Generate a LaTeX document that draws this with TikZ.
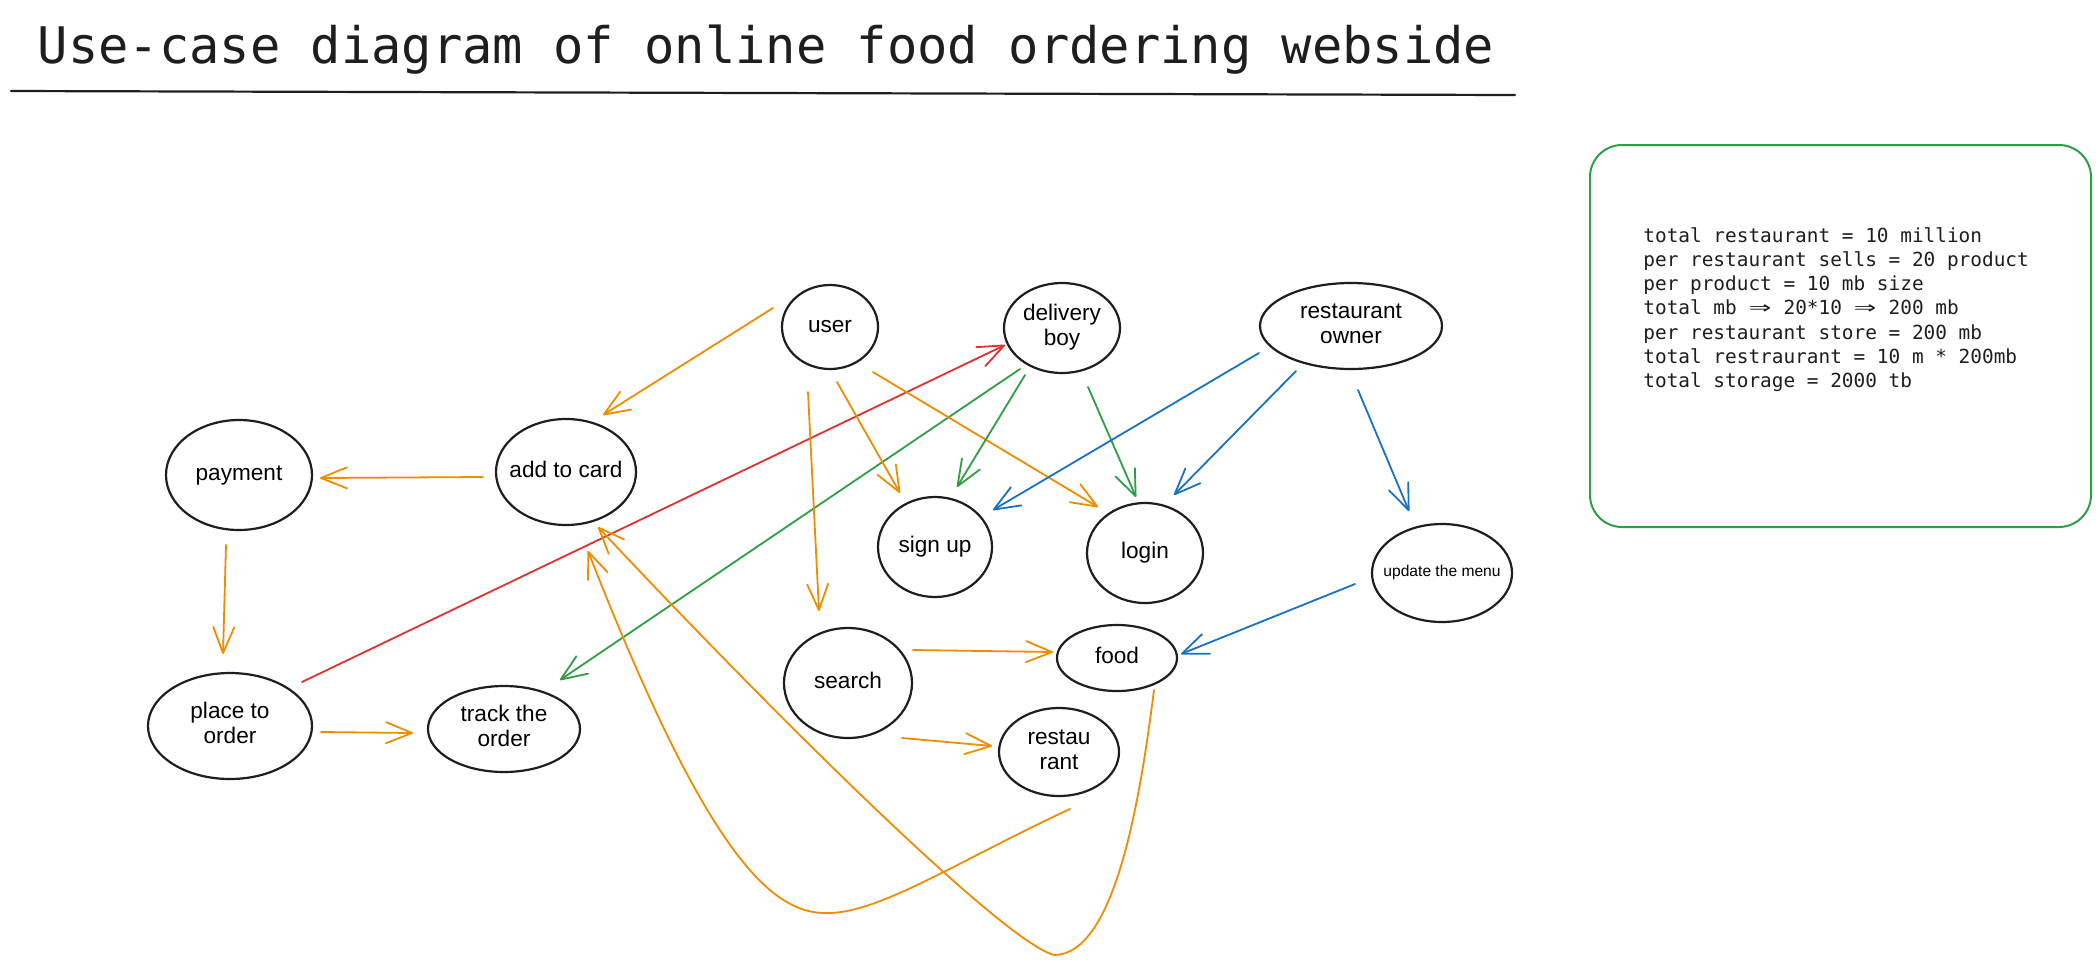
\documentclass[tikz,border=0pt]{standalone}
\usepackage{fontspec}
\setmainfont{Liberation Sans}
\newfontfamily\monofont{DejaVu Sans Mono}
\usetikzlibrary{shapes.geometric,arrows.meta,calc}
\definecolor{ink}{HTML}{1E1E1E}
\definecolor{orng}{HTML}{F08C00}
\definecolor{grn}{HTML}{2F9E44}
\definecolor{rd}{HTML}{E03131}
\definecolor{blu}{HTML}{1971C2}
\newcommand\uctxt[1]{\makebox[0pt]{\begin{tabular}{@{}c@{}}#1\end{tabular}}}
\newcommand\dbl{\makebox[1.204em]{\scalebox{1.9}[1.15]{⇒}}}
\begin{document}
\begin{tikzpicture}[x=0.5pt,y=-0.5pt,
  uc/.style 2 args={ellipse, draw=ink, line width=1.1pt, minimum width=#1pt, minimum height=#2pt, inner sep=0pt, font=\fontsize{11.3}{12.5}\selectfont},
  arr/.style={draw=#1, line width=0.9pt, line cap=round, line join=round, -{Straight Barb[length=13pt,width=10.5pt,line cap=round,line join=round]}},
]
\fill[white] (0,0) rectangle (2100,965);
\useasboundingbox (0,0) rectangle (2100,965);

% title
\node[font=\monofont\fontsize{25.2}{30}\selectfont, text=ink, anchor=base, inner sep=0pt] (title) at (766,63) {Use-case diagram of online food ordering webside};
\draw[ink, line width=1.1pt, line cap=round] (11,91) -- (1515,95);

% notes box
\node[draw=grn, line width=1pt, rounded corners=16pt, minimum width=250.5pt, minimum height=191pt, inner sep=0pt] (notesbox) at (1840.5,336) {};
\node[font=\monofont\fontsize{9.7}{12.1}\selectfont, text=ink, align=left, anchor=north west, inner sep=0pt] (notes) at (1643,227) {total restaurant = 10 million\\
per restaurant sells = 20 product\\
per product = 10 mb size\\
total mb \dbl{} 20*10 \dbl{} 200 mb\\
per restaurant store = 200 mb\\
total restraurant = 10 m * 200mb\\
total storage = 2000 tb};

% use cases
\node[uc={48}{42}] (user) at (830,327) {\uctxt{user}};
\node[uc={58}{45}] (delivery) at (1062,328) {\uctxt{delivery\\boy}};
\node[uc={91}{43}] (owner) at (1351,326) {\uctxt{restaurant\\owner}};
\node[uc={57}{50}] (signup) at (935,547) {\uctxt{sign up}};
\node[uc={58}{50}] (login) at (1145,553) {\uctxt{login}};
\node[uc={70}{49}, font=\fontsize{7.8}{9}\selectfont] (update) at (1442,573) {\uctxt{update the menu}};
\node[uc={64}{55}] (search) at (848,683) {\uctxt{search}};
\node[uc={60}{33}] (food) at (1117,658) {\uctxt{food}};
\node[uc={60}{44}] (restaurant) at (1059,752) {\uctxt{restau\\rant}};
\node[uc={73}{55}] (payment) at (239,475) {\uctxt{payment}};
\node[uc={70}{53}] (addcard) at (566,472) {\uctxt{add to card}};
\node[uc={82}{53}] (place) at (230,726) {\uctxt{place to\\order}};
\node[uc={76}{43}] (track) at (504,729) {\uctxt{track the\\order}};

% connectors
\draw[arr=orng] ($(user)+(-57,-19)$) -- ($(addcard)+(37,-57)$);
\draw[arr=orng] ($(addcard)+(-83,5)$) -- ($(payment)+(81,3)$);
\draw[arr=orng] ($(payment)+(-13,70)$) -- ($(place)+(-7,-72)$);
\draw[arr=orng] ($(place)+(91,6)$) -- ($(track)+(-91,4)$);
\draw[arr=rd] ($(place)+(72,-44)$) -- ($(delivery)+(-57,17)$);
\draw[arr=grn] ($(delivery)+(-42,41)$) -- ($(track)+(56,-49)$);
\draw[arr=orng] ($(user)+(7,55)$) -- ($(signup)+(-35,-54)$);
\draw[arr=orng] ($(user)+(43,45)$) -- ($(login)+(-47,-46)$);
\draw[arr=orng] ($(user)+(-22,65)$) -- ($(search)+(-29,-72)$);
\draw[arr=grn] ($(delivery)+(-37,47)$) -- ($(signup)+(22,-60)$);
\draw[arr=grn] ($(delivery)+(26,59)$) -- ($(login)+(-9,-56)$);
\draw[arr=blu] ($(owner)+(-92,27)$) -- ($(signup)+(58,-37)$);
\draw[arr=blu] ($(owner)+(-55,45)$) -- ($(login)+(29,-58)$);
\draw[arr=blu] ($(owner)+(7,64)$) -- ($(update)+(-33,-62)$);
\draw[arr=blu] ($(update)+(-87,11)$) -- ($(food)+(64,-4)$);
\draw[arr=orng] ($(search)+(65,-33)$) -- ($(food)+(-64,-6)$);
\draw[arr=orng] ($(search)+(54,55)$) -- ($(restaurant)+(-67,-6)$);
\draw[arr=orng] ($(restaurant)+(11,57)$) .. controls (960,860) and (880,913) .. (828,913)
  .. controls (770,915) and (705,850) .. ($(addcard)+(22,79)$);
\draw[arr=orng] ($(food)+(37,32)$) .. controls (1140,800) and (1115,955) .. (1054,955)
  .. controls (1000,940) and (760,700) .. ($(addcard)+(32,55)$);
\end{tikzpicture}
\end{document}
